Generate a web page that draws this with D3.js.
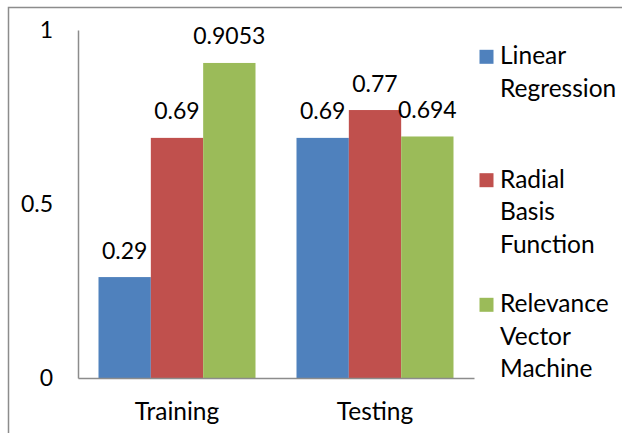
<!DOCTYPE html>
<html>
<head>
<meta charset="utf-8">
<script src="https://cdn.jsdelivr.net/npm/d3@7"></script>
<style>
  html, body { margin: 0; padding: 0; background: #fff; }
  svg { display: block; }
  text { font-family: Lato, "Open Sans", sans-serif; fill: #000; }
</style>
</head>
<body>
<svg id="chart" width="622" height="433"></svg>
<script>
// Model accuracy for the training and testing sets
const categories = ["Training", "Testing"];
const seriesNames = ["Linear Regression", "Radial Basis Function", "Relevance Vector Machine"];
const linearRegression = [0.29, 0.69];
const radialBasisFunction = [0.69, 0.77];
const relevanceVectorMachine = [0.9053, 0.694];
const valueLabels = [["0.29", "0.69"], ["0.69", "0.77"], ["0.9053", "0.694"]];
const yTicks = [0, 0.5, 1];
const legendLines = [["Linear", "Regression"], ["Radial", "Basis", "Function"], ["Relevance", "Vector", "Machine"]];
const colors = ["#4F81BD", "#C0504D", "#9BBB59"];

const seriesValues = [linearRegression, radialBasisFunction, relevanceVectorMachine];

const svg = d3.select("#chart");
const numSize = 23;   // numeric labels
const wordSize = 24.5; // category and legend words

// outer chart frame
svg.append("rect")
  .attr("x", 8.5).attr("y", 7.5)
  .attr("width", 700).attr("height", 500)
  .attr("fill", "none").attr("stroke", "#8c8c8c").attr("stroke-width", 1.5);

const plot = { left: 78, right: 474, top: 30, bottom: 378 };

const x = d3.scaleBand().domain(categories).range([plot.left, plot.right]).padding(0);
const xInner = d3.scaleBand().domain(d3.range(seriesNames.length))
  .range([20.5, x.bandwidth() - 20.5]).padding(0);
const y = d3.scaleLinear().domain([0, 1]).range([plot.bottom, plot.top]);

// bars
const groups = svg.append("g").selectAll("g")
  .data(categories)
  .join("g")
  .attr("transform", d => `translate(${x(d)},0)`);

groups.each(function (cat, ci) {
  const g = d3.select(this);
  seriesValues.forEach((vals, si) => {
    g.append("rect")
      .attr("x", xInner(si))
      .attr("y", y(vals[ci]))
      .attr("width", xInner.bandwidth())
      .attr("height", y(0) - y(vals[ci]))
      .attr("fill", colors[si]);
    g.append("text")
      .attr("x", xInner(si) + xInner.bandwidth() / 2)
      .attr("y", y(vals[ci]) - 18.5)
      .attr("text-anchor", "middle")
      .attr("font-size", numSize)
      .text(valueLabels[si][ci]);
  });
});

// y axis: line only, labels to the left
const yAxis = d3.axisLeft(y).tickValues(yTicks).tickSize(0).tickPadding(25)
  .tickFormat(d3.format("~g"));
const yg = svg.append("g").attr("transform", `translate(${plot.left},0)`).call(yAxis);
yg.select(".domain").attr("stroke", "#8c8c8c").attr("stroke-width", 1.5);
yg.selectAll("text").attr("font-size", numSize).attr("font-family", "Lato, 'Open Sans', sans-serif").attr("fill", "#000");

// x axis: baseline and category labels
const xAxis = d3.axisBottom(x).tickSize(0).tickPadding(25);
const xg = svg.append("g").attr("transform", `translate(0,${plot.bottom})`).call(xAxis);
xg.select(".domain").attr("stroke", "#8c8c8c").attr("stroke-width", 1.5);
xg.selectAll("text").attr("font-size", wordSize).attr("font-family", "Lato, 'Open Sans', sans-serif").attr("fill", "#000");

// legend
const legendTop = [64.3, 187.7, 312.3];
const lineStep = 32.5;
const legend = svg.append("g");
legendLines.forEach((lines, i) => {
  legend.append("rect")
    .attr("x", 479.5).attr("y", legendTop[i] - 14.5)
    .attr("width", 14).attr("height", 14)
    .attr("fill", colors[i]);
  lines.forEach((t, j) => {
    legend.append("text")
      .attr("x", 500)
      .attr("y", legendTop[i] + j * lineStep)
      .attr("font-size", wordSize)
      .text(t);
  });
});
</script>
</body>
</html>
